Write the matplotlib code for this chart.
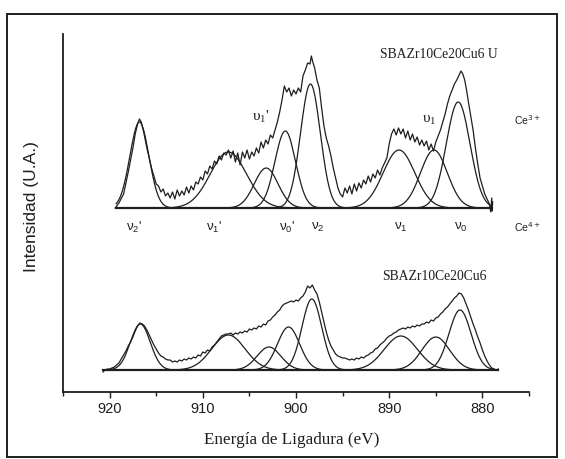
import matplotlib
matplotlib.use("Agg")
import matplotlib.pyplot as plt
import numpy as np
from matplotlib.patches import Rectangle

# ---------------- data (intensity in arbitrary units) ----------------
# Upper spectrum: SBAZr10Ce20Cu6 U (binding energy, eV ; intensity above its baseline)
top_energy = [919.4, 919.0, 918.5, 918.0, 917.75, 917.5, 917.25, 917.0, 916.8, 916.6, 916.3, 916.0,
              915.5, 915.0, 914.75, 914.5, 914.25, 914.0, 913.75, 913.5, 913.25, 913.0, 912.75, 912.5,
              912.25, 912.0, 911.75, 911.5, 911.25, 911.0, 910.75, 910.5, 910.25, 910.0, 909.75, 909.5,
              909.25, 909.0, 908.75, 908.5, 908.25, 908.0, 907.75, 907.5, 907.25, 907.0, 906.75, 906.5,
              906.25, 906.0, 905.75, 905.5, 905.25, 905.0, 904.75, 904.5, 904.25, 904.0, 903.75, 903.5,
              903.25, 903.0, 902.75, 902.5, 902.25, 902.0, 901.75, 901.5, 901.25, 901.0, 900.75, 900.5,
              900.25, 900.0, 899.75, 899.5, 899.25, 899.0, 898.75, 898.5, 898.35, 898.2, 898.0, 897.75,
              897.5, 897.25, 897.0, 896.75, 896.5, 896.25, 896.0, 895.75, 895.5, 895.25, 895.0, 894.75,
              894.5, 894.25, 894.0, 893.75, 893.5, 893.25, 893.0, 892.75, 892.5, 892.25, 892.0, 891.75,
              891.5, 891.25, 891.0, 890.75, 890.5, 890.25, 890.0, 889.75, 889.5, 889.25, 889.0, 888.75,
              888.5, 888.25, 888.0, 887.75, 887.5, 887.25, 887.0, 886.75, 886.5, 886.25, 886.0, 885.75,
              885.5, 885.25, 885.0, 884.75, 884.5, 884.25, 884.0, 883.75, 883.5, 883.25, 883.0, 882.75,
              882.5, 882.3, 882.1, 881.9, 881.7, 881.5, 881.25, 881.0, 880.75, 880.5, 880.25, 880.0,
              879.75, 879.5, 879.25, 879.1, 879.0, 878.95, 878.9]
top_counts = [0, 5, 14, 36, 48, 60, 74, 84, 89, 86, 74, 60,
              40, 24, 22, 16, 19, 12, 15, 10, 16, 9, 18, 12,
              17, 13, 21, 15, 22, 18, 26, 24, 31, 28, 37, 34,
              42, 39, 47, 44, 52, 48, 55, 53, 58, 50, 57, 46,
              55, 43, 56, 50, 58, 49, 56, 52, 60, 55, 66, 60,
              68, 64, 73, 70, 78, 86, 96, 108, 122, 116, 120, 112,
              118, 114, 120, 116, 132, 138, 145, 144, 152, 146, 140, 128,
              120, 100, 82, 70, 62, 52, 40, 30, 20, 14, 11, 20,
              15, 22, 14, 24, 17, 25, 20, 28, 24, 32, 26, 34,
              30, 38, 33, 40, 45, 50, 64, 74, 79, 73, 80, 74,
              79, 70, 77, 68, 74, 66, 71, 63, 68, 62, 67, 58,
              64, 57, 66, 72, 78, 86, 94, 104, 112, 118, 124, 128,
              133, 137, 134, 128, 118, 106, 92, 78, 60, 44, 30, 22,
              14, 9, 4, -4, 10, -3, 6]

# Lower spectrum: SBAZr10Ce20Cu6
bot_energy = [920.7, 920.5, 920.25, 920.0, 919.75, 919.5, 919.25, 919.0, 918.75, 918.5, 918.25, 918.0,
              917.75, 917.5, 917.25, 917.0, 916.75, 916.5, 916.25, 916.0, 915.75, 915.5, 915.25, 915.0,
              914.75, 914.5, 914.25, 914.0, 913.75, 913.5, 913.25, 913.0, 912.75, 912.5, 912.25, 912.0,
              911.75, 911.5, 911.25, 911.0, 910.75, 910.5, 910.25, 910.0, 909.75, 909.5, 909.25, 909.0,
              908.75, 908.5, 908.25, 908.0, 907.75, 907.5, 907.25, 907.0, 906.75, 906.5, 906.25, 906.0,
              905.75, 905.5, 905.25, 905.0, 904.75, 904.5, 904.25, 904.0, 903.75, 903.5, 903.25, 903.0,
              902.75, 902.5, 902.25, 902.0, 901.75, 901.5, 901.25, 901.0, 900.75, 900.5, 900.25, 900.0,
              899.75, 899.5, 899.25, 899.0, 898.75, 898.5, 898.25, 898.0, 897.75, 897.5, 897.25, 897.0,
              896.75, 896.5, 896.25, 896.0, 895.75, 895.5, 895.25, 895.0, 894.75, 894.5, 894.25, 894.0,
              893.75, 893.5, 893.25, 893.0, 892.75, 892.5, 892.25, 892.0, 891.75, 891.5, 891.25, 891.0,
              890.75, 890.5, 890.25, 890.0, 889.75, 889.5, 889.25, 889.0, 888.75, 888.5, 888.25, 888.0,
              887.75, 887.5, 887.25, 887.0, 886.75, 886.5, 886.25, 886.0, 885.75, 885.5, 885.25, 885.0,
              884.75, 884.5, 884.25, 884.0, 883.75, 883.5, 883.25, 883.0, 882.75, 882.5, 882.25, 882.0,
              881.75, 881.5, 881.25, 881.0, 880.75, 880.5, 880.25, 880.0, 879.75, 879.5, 879.25, 879.0,
              878.75, 878.5, 878.3]
bot_counts = [-2, 0, 1, 1, 2, 3, 5, 7, 11, 15, 19, 24,
              28, 33, 39, 44, 47, 46, 44, 40, 35, 30, 25, 21,
              17, 14, 13, 11, 10, 10, 8, 9, 8, 10, 9, 11,
              10, 12, 11, 13, 12, 15, 14, 18, 17, 20, 19, 23,
              25, 28, 31, 34, 35, 36, 36, 37, 35, 37, 36, 38,
              37, 39, 38, 41, 40, 42, 41, 44, 43, 46, 45, 49,
              50, 53, 55, 58, 60, 64, 66, 67, 68, 69, 68, 70,
              69, 72, 74, 78, 84, 82, 85, 80, 76, 68, 58, 48,
              38, 30, 24, 20, 16, 14, 13, 12, 12, 11, 10, 11,
              10, 12, 11, 13, 12, 14, 15, 17, 18, 21, 22, 25,
              27, 29, 32, 34, 35, 37, 38, 40, 41, 42, 41, 43,
              42, 44, 43, 45, 44, 46, 46, 48, 47, 50, 49, 52,
              53, 56, 58, 61, 63, 66, 69, 72, 74, 77, 76, 72,
              66, 60, 53, 46, 40, 33, 27, 20, 14, 9, 5, 2,
              1, 0, 1]

# Fitted components: centre (eV), height, FWHM (eV)
comp_names = ["v2'", "v1'", "v0'", "u1'", "v2", "v1", "u1", "v0"]
top_centers = [916.8, 907.25, 903.2, 901.15, 898.45, 888.95, 885.2, 882.6]
top_heights = [86, 56, 40, 77, 124, 58, 58, 106]
top_fwhm = [2.4, 4.6, 3.0, 2.6, 2.5, 4.0, 3.4, 3.0]

bot_centers = [916.7, 907.25, 902.9, 900.8, 898.3, 888.75, 885.0, 882.4]
bot_heights = [46, 35, 23, 43, 71, 34, 33, 60]
bot_fwhm = [2.5, 4.2, 3.0, 2.8, 2.5, 4.2, 3.5, 2.8]

top_range = (919.3, 879.0)
bot_range = (920.7, 878.3)

x_ticks_major = [920, 910, 900, 890, 880]
x_ticks_minor = [925, 915, 905, 895, 885, 875]

top_offset = 184
bot_offset = 22

# ---------------- figure ----------------
W, H = 565, 459
fig = plt.figure(figsize=(W / 100, H / 100), dpi=100)
fig.patch.set_facecolor("white")

ax = fig.add_axes([63 / W, 1 - 392 / H, (529 - 63) / W, (392 - 34) / H])
ax.set_xlim(925, 875)
ax.set_ylim(0, 358)

ink = "#1e1e1e"

for side in ["top", "right"]:
    ax.spines[side].set_visible(False)
ax.spines["left"].set_linewidth(1.3)
ax.spines["bottom"].set_linewidth(1.3)
ax.spines["left"].set_color(ink)
ax.spines["bottom"].set_color(ink)
ax.set_yticks([])
ax.set_xticks(x_ticks_major)
ax.set_xticks(x_ticks_minor, minor=True)
ax.tick_params(axis="x", which="both", direction="out", length=4, width=1.0, color=ink, pad=3.5)
ax.tick_params(axis="x", which="minor", length=3)
for lbl in ax.get_xticklabels():
    lbl.set_fontfamily("Liberation Sans")
    lbl.set_fontsize(10.5)
    lbl.set_color(ink)


def gauss(e, c, h, fw):
    s = fw / 2.3548
    return h * np.exp(-0.5 * ((e - c) / s) ** 2)


def draw_block(energy, counts, centers, heights, fwhms, rng, off):
    lo, hi = min(rng), max(rng)
    e = np.linspace(lo, hi, 600)
    for c, h, fw in zip(centers, heights, fwhms):
        ax.plot(e, off + gauss(e, c, h, fw), color=ink, lw=0.9)
    ax.plot([rng[0], rng[1]], [off, off], color=ink, lw=1.6)
    ax.plot(energy, off + np.asarray(counts, float), color=ink, lw=0.9)


draw_block(top_energy, top_counts, top_centers, top_heights, top_fwhm, top_range, top_offset)
draw_block(bot_energy, bot_counts, bot_centers, bot_heights, bot_fwhm, bot_range, bot_offset)

serif = "Liberation Serif"
sans = "Liberation Sans"

ax.text(891.0, 337, "SBAZr10Ce20Cu6 U", family=serif, fontsize=9.8, color=ink,
        ha="left", va="center", clip_on=False)
ax.text(890.8, 116, "SBAZr10Ce20Cu6", family=serif, fontsize=9.8, color=ink,
        ha="left", va="center", clip_on=False)
ax.text(876.6, 272, r"Ce$^{3+}$", family=sans, fontsize=7.5, color=ink,
        ha="left", va="center", clip_on=False)
ax.text(876.6, 165, r"Ce$^{4+}$", family=sans, fontsize=7.5, color=ink,
        ha="left", va="center", clip_on=False)

ax.text(903.8, 275, r"$\mathregular{υ_1}$'", family=serif, fontsize=11, color=ink,
        ha="center", va="center")
ax.text(885.7, 272, r"$\mathregular{υ_1}$", family=serif, fontsize=11, color=ink,
        ha="center", va="center")

nu_labels = [r"$\mathregular{ν_2}$'", r"$\mathregular{ν_1}$'", r"$\mathregular{ν_0}$'",
             r"$\mathregular{ν_2}$", r"$\mathregular{ν_1}$", r"$\mathregular{ν_0}$"]
nu_pos = [917.4, 908.8, 901.0, 897.7, 888.75, 882.3]
for t, e in zip(nu_labels, nu_pos):
    ax.text(e, 165, t, family=sans, fontsize=9.5, color=ink, ha="center", va="center")

fig.text(292 / W, 1 - 440 / H, "Energía de Ligadura (eV)", family=serif, fontsize=12.3,
         color=ink, ha="center", va="center")
fig.text(32 / W, 1 - 207 / H, "Intensidad (U.A.)", family=sans, fontsize=12.5,
         color=ink, ha="center", va="center", rotation=90)

# outer frame of the scanned figure
fig.patches.append(Rectangle((7 / W, 1 - 457 / H), (557 - 7) / W, (457 - 14) / H,
                             transform=fig.transFigure, fill=False, edgecolor=ink, lw=1.4))

fig.savefig("out.png", dpi=100, facecolor="white")
